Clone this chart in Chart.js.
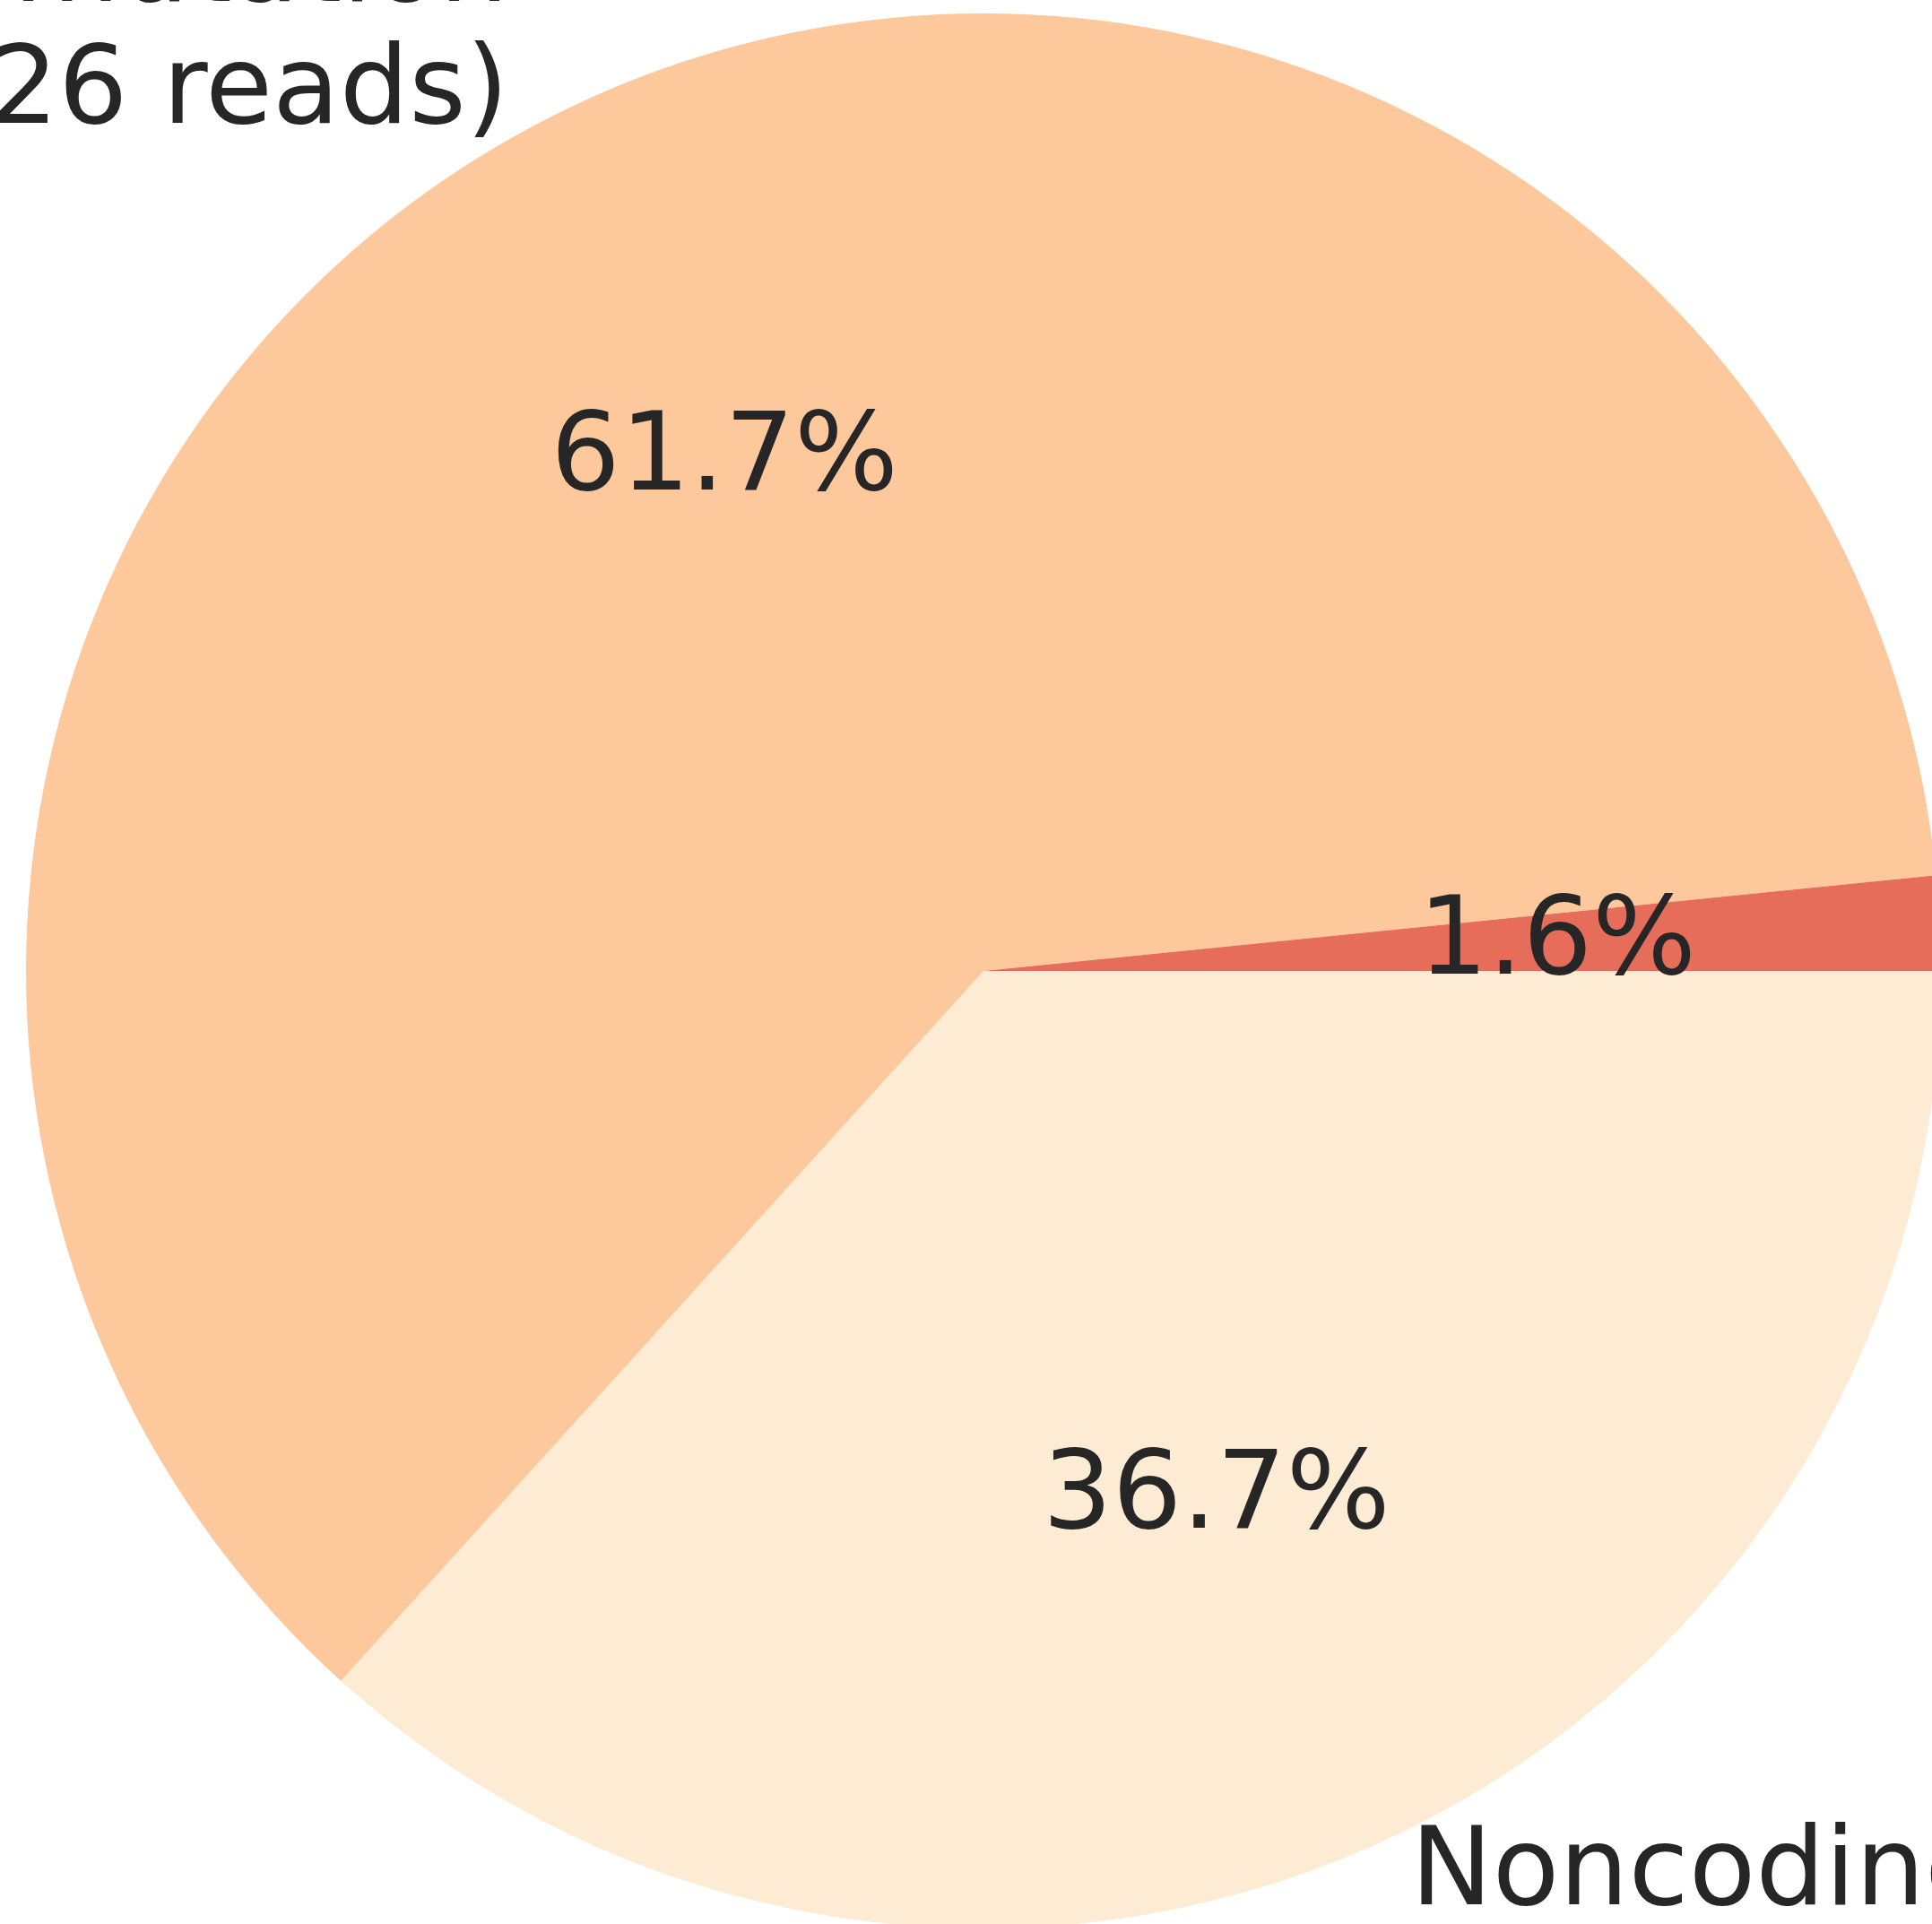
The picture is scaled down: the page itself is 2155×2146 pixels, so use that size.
<!DOCTYPE html>
<html>
<head>
<meta charset="utf-8">
<script src="https://cdn.jsdelivr.net/npm/chart.js@4.4.0/dist/chart.umd.min.js"></script>
<style>
  html, body { margin: 0; padding: 0; background: #ffffff; overflow: hidden; }
  #wrap { position: absolute; left: 0; top: 0; width: 2200px; height: 2200px; }
</style>
</head>
<body>
<div id="wrap"><canvas id="pie" width="2200" height="2200"></canvas></div>
<script>
// slice order follows Chart.js clockwise drawing, starting at 3 o'clock
const categories = ['Noncoding mutation', 'Coding mutation', 'Splice site mutation'];
const readCounts = [2693, 4526, 117];
const sliceColors = ['#fdebd3', '#fcc89c', '#e76d5b'];

const total = readCounts.reduce((a, b) => a + b, 0);

function formatter(value) {
    var regex = /(\d)(?=(\d{3})+$)/g;
    return String(value).replace(regex, '$1,');
}

// draws the percent text inside and the name/count text outside each slice
const pieLabels = {
    id: 'pieLabels',
    afterDatasetsDraw(chart) {
        const ctx = chart.ctx;
        const meta = chart.getDatasetMeta(0);
        ctx.save();
        ctx.fillStyle = '#262626';
        ctx.font = '122px "DejaVu Sans"';
        ctx.textBaseline = 'alphabetic';
        meta.data.forEach((arc, i) => {
            const mid = (arc.startAngle + arc.endAngle) / 2;
            const r = arc.outerRadius;
            // percent, at 0.6 r
            const px = arc.x + Math.cos(mid) * r * 0.6;
            const py = arc.y + Math.sin(mid) * r * 0.6;
            ctx.textAlign = 'center';
            const pct = (readCounts[i] / total * 100).toFixed(1) + '%';
            ctx.fillText(pct, px, py + 35);
            // outer label, at 1.1 r
            const lx = arc.x + Math.cos(mid) * r * 1.1;
            const ly = arc.y + Math.sin(mid) * r * 1.1;
            ctx.textAlign = lx < arc.x ? 'right' : 'left';
            ctx.fillText(categories[i], lx, ly - 33);
            ctx.fillText('(' + formatter(readCounts[i]) + ' reads)', lx, ly + 103);
        });
        ctx.restore();
    }
};

new Chart(document.getElementById('pie'), {
    type: 'pie',
    data: {
        labels: categories,
        datasets: [{
            data: readCounts,
            backgroundColor: sliceColors,
            borderWidth: 0,
            hoverOffset: 0
        }]
    },
    options: {
        responsive: false,
        animation: false,
        devicePixelRatio: 1,
        rotation: 90,
        layout: { padding: { left: 29, top: 15, right: 35, bottom: 49 } },
        plugins: {
            legend: { display: false },
            tooltip: { enabled: false }
        }
    },
    plugins: [pieLabels]
});
</script>
</body>
</html>
